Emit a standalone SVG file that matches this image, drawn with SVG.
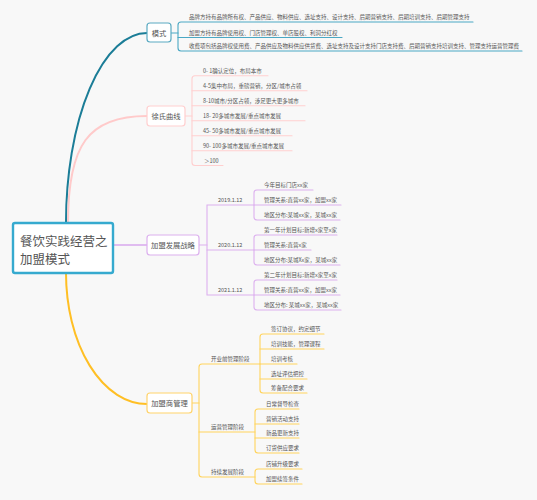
<svg xmlns="http://www.w3.org/2000/svg" width="537" height="500" viewBox="0 0 537 500">
<style>
.bg{fill:#f8f8f8}
.node{fill:#ffffff;stroke-width:1.2}
.t{font-family:"Noto Sans CJK SC","Noto Sans",sans-serif;fill:#555}
.s{font-size:5.5px}
.m{font-size:7.3px;text-anchor:middle}
.r{font-size:12.5px;fill:#555}
.ln{fill:none;stroke-width:1.1;stroke-linecap:round}
.teal{stroke:#4aa8c4}
.pink{stroke:#ffcfcf}
.purp{stroke:#dcb0ee}
.yell{stroke:#ffd35c}
</style>
<rect class="bg" x="0" y="0" width="537" height="500"/>
<g id="connectors">
<path d="M66 223 A81 190 0 0 1 147 33" fill="none" stroke="#1b7d97" stroke-width="2"/>
<path d="M68 223 C68 145 88 116 147 116" fill="none" stroke="#ffcaca" stroke-width="2"/>
<path d="M113 245 H147" fill="none" stroke="#d8a8ee" stroke-width="1.6"/>
<path d="M66 273 A81 131 0 0 0 147 404" fill="none" stroke="#ffbf24" stroke-width="2"/>
<!-- 模式 -->
<g class="ln teal">
<path d="M171 33 H178"/>
<path d="M473 22 H181 Q178 22 178 25 V48 Q178 51 181 51 H522"/>
<path d="M178 37.5 H342"/>
</g>
<!-- 徐氏曲线 -->
<g class="ln pink">
<path d="M185 116 H192"/>
<path d="M268 75.7 H195 Q192 75.7 192 78.7 V162.5 Q192 165.5 195 165.5 H223"/>
<path d="M192 90.7 H307"/><path d="M192 105.7 H305"/><path d="M192 120.7 H305"/>
<path d="M192 135.7 H292"/><path d="M192 150.7 H292"/>
</g>
<!-- 加盟发展战略 -->
<g class="ln purp">
<path d="M199 245 H207"/>
<path d="M254 205 H207 V295 H254"/>
<path d="M207 250 H254"/>
<path d="M313 190 H257 Q254 190 254 193 V217 Q254 220 257 220 H340"/><path d="M254 205 H341"/>
<path d="M337 235 H257 Q254 235 254 238 V262 Q254 265 257 265 H340"/><path d="M254 250 H311"/>
<path d="M337 280 H257 Q254 280 254 283 V307 Q254 310 257 310 H341"/><path d="M254 295 H340"/>
</g>
<!-- 加盟商管理 -->
<g class="ln yell">
<path d="M192 403 H199"/>
<path d="M260 364 H202 Q199 364 199 367 V474 Q199 477 202 477 H255"/>
<path d="M199 432 H255"/>
<path d="M324 334 H263 Q260 334 260 337 V390 Q260 393 263 393 H307"/>
<path d="M260 349 H324"/><path d="M260 364 H297"/><path d="M260 379 H307"/>
<path d="M299 409 H258 Q255 409 255 412 V450 Q255 453 258 453 H299"/>
<path d="M255 424 H299"/><path d="M255 438 H299"/>
<path d="M302 469 H258 Q255 469 255 472 V481 Q255 484 258 484 H302"/>
</g>
</g>
<g id="root">
<rect x="13" y="223" width="100" height="50" rx="2" fill="#fff" stroke="#36aacf" stroke-width="2.4"/>
<text class="t r" x="20" y="246">餐饮实践经营之</text>
<text class="t r" x="20" y="264">加盟模式</text>
</g>
<g id="moshi">
<rect class="node" x="147" y="23" width="24" height="19" rx="3" stroke="#5aaac2"/>
<text class="t m" x="159" y="35.5">模式</text>
<text class="t s" x="189" y="19">品牌方持有品牌所有权、产品供应、物料供应、选址支持、设计支持、后期营销支持、后期培训支持、后期管理支持</text>
<text class="t s" x="189" y="34.5">加盟方持有品牌使用权、门店管理权、单店股权、利润分红权</text>
<text class="t s" x="189" y="48">收费项包括品牌权使用费、产品供应及物料供应供货费、选址支持及设计支持门店支持费、后期营销支持培训支持、管理支持运营管理费</text>
</g>
<g id="xushi">
<rect class="node" x="147" y="106" width="38" height="20" rx="3" stroke="#ffcfcf"/>
<text class="t m" x="166" y="118.5">徐氏曲线</text>
<text class="t s" x="203" y="72.7">0- 1确认定位，布局本市</text>
<text class="t s" x="203" y="87.7">4-5集中布局，重磅营销，分区/城市占领</text>
<text class="t s" x="203" y="102.7">8-10城市/分区占领，涉足更大更多城市</text>
<text class="t s" x="203" y="117.7">18- 20多城市发展/重点城市发展</text>
<text class="t s" x="203" y="132.7">45- 50多城市发展/重点城市发展</text>
<text class="t s" x="203" y="147.7">90- 100多城市发展/重点城市发展</text>
<text class="t s" x="204" y="162.5">＞100</text>
</g>
<g id="fazhan">
<rect class="node" x="147" y="235" width="52" height="20" rx="3" stroke="#dcb0ee"/>
<text class="t m" x="173" y="247.5">加盟发展战略</text>
<text class="t s" x="218" y="202">2019.1.12</text>
<text class="t s" x="218" y="247">2020.1.12</text>
<text class="t s" x="218" y="292">2021.1.12</text>
<text class="t s" x="264" y="187">今年目标门店xx家</text>
<text class="t s" x="264" y="202">管理关系:直营xx家，加盟xx家</text>
<text class="t s" x="264" y="217">地区分布:某城xx家，某城xx家</text>
<text class="t s" x="264" y="232">第一年计划目标:新增x家至x家</text>
<text class="t s" x="264" y="247">管理关系:直营x家</text>
<text class="t s" x="264" y="262">地区分布:某城Xx家，某城xx家</text>
<text class="t s" x="264" y="277">第二年计划目标:新增x家至x家</text>
<text class="t s" x="264" y="292">管理关系:直营xx家，加盟xx家</text>
<text class="t s" x="264" y="307">地区分布: 某城xx家，某城xx家</text>
</g>
<g id="guanli">
<rect class="node" x="147" y="393" width="45" height="20" rx="3" stroke="#ffd36b"/>
<text class="t m" x="169.5" y="405.5">加盟商管理</text>
<text class="t s" x="211" y="361">开业前管理阶段</text>
<text class="t s" x="211" y="429">运营管理阶段</text>
<text class="t s" x="211" y="474">持续发展阶段</text>
<text class="t s" x="271" y="331">签订协议，约定细节</text>
<text class="t s" x="271" y="346">培训技能，管理课程</text>
<text class="t s" x="271" y="361">培训考核</text>
<text class="t s" x="271" y="376">选址评估把控</text>
<text class="t s" x="271" y="390">筹备配合要求</text>
<text class="t s" x="266" y="406">日常督导检查</text>
<text class="t s" x="266" y="421">营销活动支持</text>
<text class="t s" x="266" y="435">新品更新支持</text>
<text class="t s" x="266" y="450">订货供应要求</text>
<text class="t s" x="266" y="466">店铺升级要求</text>
<text class="t s" x="266" y="481">加盟续签条件</text>
</g>
</svg>
